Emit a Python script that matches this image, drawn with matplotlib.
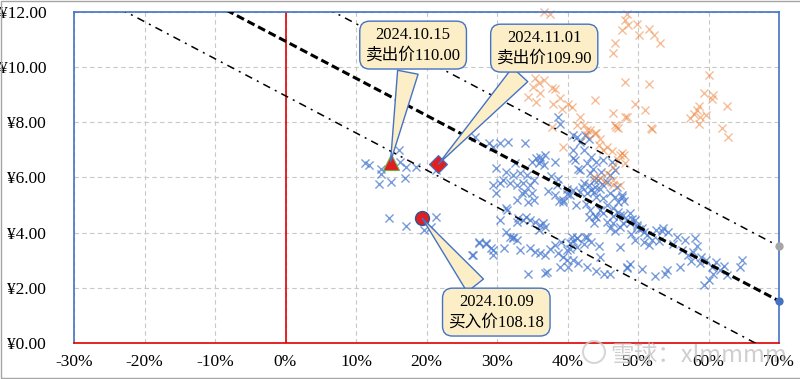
import numpy as np
import matplotlib
matplotlib.use("Agg")
import matplotlib.pyplot as plt
from matplotlib.patches import Rectangle, Ellipse

plt.rcParams['font.family'] = ['Liberation Serif', 'Noto Sans CJK SC', 'DejaVu Sans']

# ----------------------------
# Data (x: premium %, y: price ¥)
# ----------------------------
blue_points = [
    (11.3, 6.52), (11.9, 6.45), (13.5, 6.29), (13.5, 6.12), (13.3, 5.76), (15.0, 5.85),
    (16.1, 6.99), (16.2, 6.57), (17.1, 6.39), (17.0, 5.97), (18.5, 6.39), (14.7, 4.52),
    (17.1, 4.24), (19.6, 4.09), (21.3, 4.58), (20.6, 4.19), (21.4, 6.27), (27.4, 3.63),
    (28.4, 3.59), (26.5, 3.19),
    (26.9, 7.47), (28.8, 7.24), (29.5, 7.10), (30.4, 7.24), (31.6, 7.29), (34.0, 7.24),
    (36.1, 6.75), (36.8, 6.81), (35.9, 6.51), (36.6, 6.45), (38.2, 6.57), (32.6, 6.51),
    (29.9, 6.33), (31.3, 6.21), (32.3, 6.09), (33.3, 6.15), (34.2, 6.09), (30.9, 5.91),
    (30.4, 5.79), (31.8, 5.79), (32.8, 5.72), (33.7, 5.79), (34.7, 5.72), (35.2, 5.91),
    (29.5, 5.72), (29.8, 5.42), (34.0, 5.48), (34.9, 5.42), (32.8, 5.18), (34.4, 5.12),
    (31.3, 4.88), (38.5, 5.72), (38.2, 5.36), (39.4, 5.12), (39.9, 5.40), (38.8, 5.15),
    (33.0, 4.52), (32.8, 4.40), (33.7, 4.46), (34.7, 4.46), (35.4, 4.40), (36.1, 4.28),
    (36.8, 4.21), (35.9, 4.09), (31.3, 4.03), (31.8, 3.85), (32.8, 3.73), (32.3, 3.80),
    (27.4, 3.67), (28.4, 3.61), (29.1, 3.43), (29.5, 3.19), (26.6, 3.19), (33.3, 3.37),
    (34.7, 3.43), (35.4, 3.31), (36.1, 3.25), (36.8, 3.19), (38.2, 3.55), (38.7, 3.25),
    (39.4, 3.13), (38.9, 2.76), (36.8, 2.52), (34.4, 2.50), (40.4, 3.61), (40.8, 3.70),
    (41.3, 3.49), (40.4, 3.40), (39.9, 3.01), (40.1, 2.76),
    (35.6, 6.69), (33.5, 5.42), (35.2, 5.18), (31.4, 4.82), (32.3, 3.85), (29.5, 3.37),
    (37.1, 2.58), (38.7, 8.20), (39.0, 7.95), (40.8, 6.69), (41.5, 6.30), (42.3, 7.00),
    (43.0, 7.40), (43.2, 4.82), (43.9, 4.60), (45.6, 4.40), (47.9, 4.34), (41.3, 3.79),
    (42.7, 3.85), (42.3, 3.60), (43.4, 3.65), (44.5, 3.50), (39.9, 3.37), (40.8, 3.00),
    (41.5, 2.90), (42.7, 2.76), (44.1, 2.60), (45.2, 2.50), (46.0, 2.50), (47.4, 3.49),
    (48.4, 2.76),
    (40.8, 7.54), (41.3, 7.45), (41.8, 7.29), (42.5, 7.54), (40.8, 6.99), (41.1, 6.63),
    (41.8, 6.27), (42.7, 6.51), (43.4, 6.75), (44.1, 6.57), (45.1, 6.63), (46.3, 6.57),
    (46.7, 6.27), (46.0, 6.09), (43.2, 6.15), (43.7, 5.91), (43.0, 5.72), (43.9, 5.66),
    (44.6, 5.60), (43.7, 5.48), (44.1, 5.30), (42.7, 5.42), (41.8, 5.48), (40.8, 5.54),
    (39.9, 5.60), (40.4, 5.36), (39.4, 5.18), (45.1, 5.24), (46.0, 5.42), (46.7, 5.30),
    (47.2, 5.10), (47.7, 5.36), (45.6, 5.00), (46.5, 4.88), (47.2, 4.76), (47.9, 4.64),
    (48.4, 4.46), (48.9, 4.34), (49.6, 4.46), (49.8, 4.21), (50.5, 4.16), (44.6, 4.82),
    (44.1, 4.58), (46.5, 4.34), (46.0, 4.16), (43.7, 4.34), (43.0, 4.58), (52.6, 4.09),
    (53.6, 4.16), (40.6, 3.85), (41.4, 3.80), (42.5, 3.85), (42.4, 5.80), (44.3, 5.90),
    (43.3, 5.55), (44.9, 5.75), (42.1, 5.65), (43.6, 6.30),
    (47.7, 5.30), (48.0, 5.15), (47.4, 4.64), (48.9, 4.70), (49.2, 4.50), (49.8, 4.28),
    (50.2, 4.15), (50.8, 4.03), (49.6, 3.73), (50.8, 3.67), (53.4, 4.05), (54.3, 4.03),
    (55.5, 3.85), (55.0, 3.60), (56.7, 3.73), (58.1, 3.79), (58.3, 3.50), (56.2, 3.37),
    (57.1, 3.19), (57.5, 2.98), (58.8, 2.89), (59.7, 3.00), (60.5, 2.76), (61.6, 2.64),
    (62.6, 2.46), (62.2, 2.80), (64.7, 3.01), (64.5, 2.76), (56.0, 2.76), (54.1, 2.64),
    (53.8, 2.50), (52.4, 2.43), (59.3, 2.10), (60.0, 2.30), (48.4, 2.71), (48.8, 2.85),
    (50.5, 2.67), (51.3, 3.90), (52.0, 3.75), (57.8, 3.30), (59.0, 3.10), (60.6, 2.50),
    (61.0, 2.95),
    (36.2, 6.62), (35.0, 6.55), (37.6, 6.05), (38.6, 5.95), (37.3, 5.50), (36.5, 4.35),
    (34.1, 4.55), (46.8, 4.05), (47.5, 4.22), (46.4, 4.60), (45.0, 4.70), (42.6, 5.05),
    (41.2, 5.00), (44.8, 6.20), (45.6, 5.85), (47.0, 5.65), (49.0, 3.95), (51.5, 3.55),
    (53.0, 3.70), (31.0, 3.45), (30.4, 4.45), (37.5, 3.40), (39.1, 3.65), (44.6, 3.10),
]

orange_points = [
    (36.6, 12.00), (37.5, 11.92), (35.4, 9.59), (35.9, 9.41), (36.6, 9.53), (35.1, 9.29),
    (36.1, 9.05), (37.8, 9.23), (38.2, 9.19), (34.4, 8.92), (35.6, 8.74), (37.9, 8.68),
    (38.9, 8.87), (39.2, 8.50), (40.1, 8.68), (40.6, 8.56), (41.8, 8.20), (37.8, 7.84),
    (41.3, 7.90), (42.7, 7.72), (44.1, 7.60), (44.6, 7.40), (45.6, 7.11), (46.3, 6.95),
    (47.4, 6.81), (48.1, 6.51), (43.9, 8.80), (46.7, 10.86), (46.4, 10.50), (48.2, 9.47),
    (49.6, 8.68), (51.0, 8.44), (48.4, 8.20), (46.7, 7.90), (51.9, 7.78),
    (48.4, 11.92), (48.2, 11.70), (48.6, 11.52), (47.8, 11.34), (49.9, 11.58), (50.2, 11.16),
    (51.6, 11.40), (52.2, 11.16), (53.1, 10.88), (51.6, 9.38), (46.4, 8.32), (48.1, 8.18),
    (47.2, 7.81), (52.0, 7.74),
    (60.1, 9.71), (59.4, 9.05), (60.7, 8.99), (60.5, 8.85), (58.6, 8.59), (58.3, 8.44),
    (58.0, 8.30), (57.4, 8.14), (58.8, 8.20), (59.6, 8.26), (58.7, 7.93), (62.6, 8.59),
    (61.9, 7.78), (62.8, 7.47),
    (42.3, 7.90), (43.2, 7.72), (43.9, 7.60), (42.7, 7.54), (44.4, 7.17), (45.1, 6.99),
    (47.7, 6.87), (47.2, 6.63), (46.5, 6.39), (44.6, 5.97), (45.3, 5.85), (46.5, 5.72),
    (46.9, 7.84), (39.4, 7.11), (45.6, 6.15), (46.5, 5.91), (47.4, 5.72), (43.7, 6.03),
    (48.0, 6.81),
]

# trade markers
buy_point = (19.4, 4.52)
sell1_point = (14.9, 6.57)
sell2_point = (21.7, 6.49)

buy_label = "2024.10.09\n买入价108.18"
sell1_label = "2024.10.15\n卖出价110.00"
sell2_label = "2024.11.01\n卖出价109.90"

# regression band
slope = -0.1345
intercept_mid = 10.94
band = 1.98

x_ticks = [-30, -20, -10, 0, 10, 20, 30, 40, 50, 60, 70]
y_ticks = [0, 2, 4, 6, 8, 10, 12]

# ----------------------------
# Figure
# ----------------------------
fig = plt.figure(figsize=(8, 3.79), dpi=100)
ax = fig.add_axes([0.0925, 0.095, 0.88125, 0.8734])
ax.set_xlim(-30, 70)
ax.set_ylim(0, 12)

ax.set_xticks(x_ticks)
ax.set_xticklabels([f"{v}%" for v in x_ticks])
ax.set_yticks(y_ticks)
ax.set_yticklabels([f"¥{v:.2f}" for v in y_ticks])
ax.tick_params(axis='both', length=0, labelsize=12.5)
ax.tick_params(axis='y', pad=20)
ax.tick_params(axis='x', pad=8)

ax.grid(True, color='#C8C8C8', linestyle=(0, (4, 3)), linewidth=0.8)
ax.set_axisbelow(True)

for side in ('left', 'top', 'right'):
    ax.spines[side].set_color('#4472C4')
    ax.spines[side].set_linewidth(1.2)
ax.spines['bottom'].set_color('#E00000')
ax.spines['bottom'].set_linewidth(1.2)
ax.axvline(0, color='#E00000', linewidth=1.2, zorder=1.5)

# band lines
xs = np.array([-30, 70])
ax.plot(xs, slope * xs + intercept_mid, color='black', linewidth=2.2,
        linestyle=(0, (2.6, 1.3)), zorder=3)
ax.plot(xs, slope * xs + intercept_mid + band, color='black', linewidth=1.1,
        linestyle=(0, (5, 3.5, 1.3, 3.5)), zorder=3)
ax.plot(xs, slope * xs + intercept_mid - band, color='black', linewidth=1.1,
        linestyle=(0, (5, 3.5, 1.3, 3.5)), zorder=3)

# end dots on the right axis
ax.plot([70], [slope * 70 + intercept_mid + band], 'o', color='#A5A5A5',
        markersize=5, clip_on=False, zorder=5)
ax.plot([70], [slope * 70 + intercept_mid], 'o', color='#4472C4',
        markersize=5, clip_on=False, zorder=5)

# scatter
bp = np.array(blue_points)
op = np.array(orange_points)
ax.scatter(bp[:, 0], bp[:, 1], marker='x', s=34, color='#4A7BD0', alpha=0.75,
           linewidths=1.0, zorder=2)
ax.scatter(op[:, 0], op[:, 1], marker='x', s=34, color='#ED7D31', alpha=0.5,
           linewidths=1.0, zorder=2.1, clip_on=False)

# trade markers
ax.plot(*sell1_point, marker='^', markersize=12, color='#E02020',
        markeredgecolor='#70AD47', markeredgewidth=0.8, zorder=6)
ax.plot(*sell2_point, marker='D', markersize=9, color='#E02020',
        markeredgecolor='#4472C4', markeredgewidth=0.8, zorder=6)
ax.plot(*buy_point, marker='o', markersize=10, color='#E02020',
        markeredgecolor='#2F5597', markeredgewidth=1.0, zorder=6)

# callouts
box = dict(boxstyle='round,pad=0.35,rounding_size=0.6', fc='#FCEFC7',
           ec='#4472C4', lw=1.0)
arrow = dict(arrowstyle='wedge,tail_width=1.25,shrink_factor=0.5',
             fc='#FCEFC7', ec='#4472C4', lw=1.0, shrinkB=0)

for label, pt, pos in [(sell1_label, sell1_point, (18.1, 10.8)),
                       (sell2_label, sell2_point, (36.7, 10.69)),
                       (buy_label, buy_point, (29.9, 1.12))]:
    ax.annotate(label, xy=pt, xytext=pos, ha='center', va='center',
                fontsize=12, linespacing=1.35, bbox=box, arrowprops=arrow,
                zorder=7)

# watermark
fig.add_artist(Ellipse((594 / 800, 1 - 352 / 379), 22 / 800, 22 / 379,
                       transform=fig.transFigure, fill=False, ec='#CCCCCC',
                       lw=1.5, alpha=0.8))
fig.text(0.763, 0.045, "雪球：xlmmmm", fontsize=17, color='#BBBBBB', alpha=0.7,
         family=['Noto Sans CJK SC', 'DejaVu Sans'], zorder=10)

# outer chart border
fig.add_artist(Rectangle((0.001, 0.002), 1.2, 0.996, transform=fig.transFigure,
                         fill=False, ec='#A6A6A6', lw=1.0))

fig.savefig("out.png", dpi=100)
